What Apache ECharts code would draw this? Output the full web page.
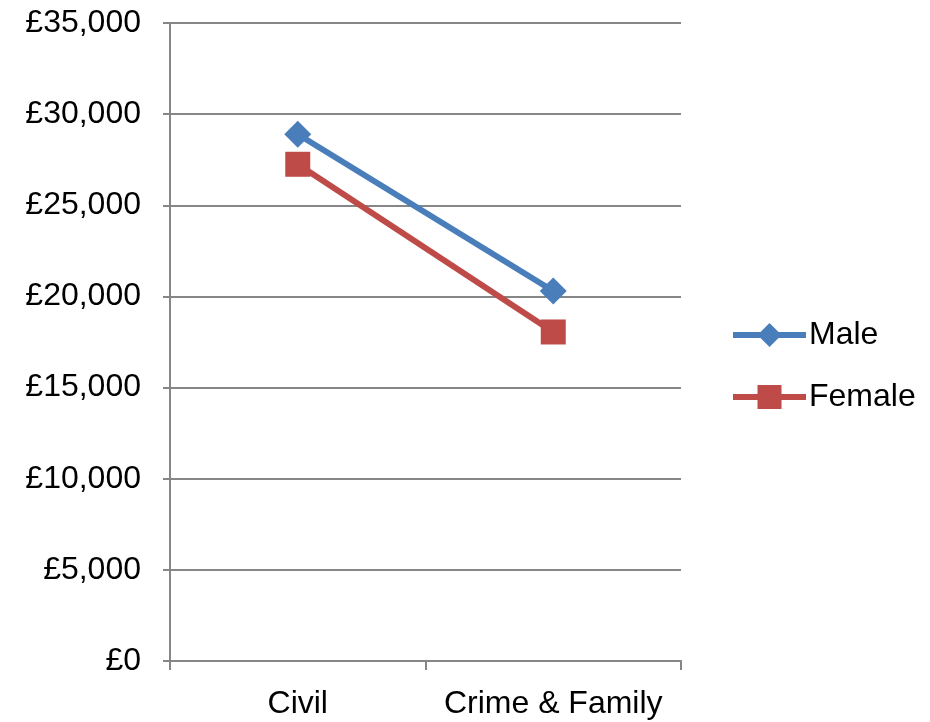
<!DOCTYPE html>
<html>
<head>
<meta charset="utf-8">
<script src="https://cdn.jsdelivr.net/npm/echarts@6/dist/echarts.min.js"></script>
<style>
html,body{margin:0;padding:0;background:#fff;}
#chart{width:930px;height:722px;}
</style>
</head>
<body>
<div id="chart"></div>
<script>
var categories = ['Civil', 'Crime & Family'];
var maleValues = [28900, 20300];
var femaleValues = [27250, 18050];
var seriesNames = ['Male', 'Female'];
var yTicks = [0, 5000, 10000, 15000, 20000, 25000, 30000, 35000];

var maleIcon = 'path://M0 9 L73 9 L73 15 L0 15 Z M36.5 0 L48.5 12 L36.5 24 L24.5 12 Z';
var femaleIcon = 'path://M0 9 L73 9 L73 15 L0 15 Z M24.5 0 L48.5 0 L48.5 24 L24.5 24 Z';

var chart = echarts.init(document.getElementById('chart'));
var font = 'Liberation Sans, Arial, sans-serif';
chart.setOption({
  animation: false,
  backgroundColor: '#ffffff',
  grid: {left: 170, right: 249, top: 23, bottom: 61, containLabel: false},
  legend: {
    orient: 'vertical',
    left: 728,
    top: 314,
    itemWidth: 73,
    itemHeight: 24,
    itemGap: 30,
    data: [
      {name: seriesNames[0], icon: maleIcon, itemStyle: {color: '#4a7ebb'}},
      {name: seriesNames[1], icon: femaleIcon, itemStyle: {color: '#be4b48'}}
    ],
    textStyle: {fontFamily: font, fontSize: 32, color: '#000', padding: [0,0,0,-2]}
  },
  xAxis: {
    type: 'category',
    data: categories,
    boundaryGap: true,
    axisLine: {lineStyle: {color: '#868686', width: 2}},
    axisTick: {show: true, interval: 0, length: 9, lineStyle: {color: '#868686', width: 2}},
    axisLabel: {interval: 0, hideOverlap: false, fontFamily: font, fontSize: 32, color: '#000', margin: 27}
  },
  yAxis: {
    type: 'value',
    min: yTicks[0],
    max: yTicks[yTicks.length - 1],
    interval: 5000,
    axisLine: {show: true, lineStyle: {color: '#868686', width: 2}},
    axisTick: {show: true, length: 7, lineStyle: {color: '#868686', width: 2}},
    splitLine: {lineStyle: {color: '#868686', width: 2}},
    axisLabel: {
      fontFamily: font, fontSize: 32, color: '#000', margin: 29,
      formatter: function (v) { return '£' + v.toLocaleString('en-GB'); }
    }
  },
  series: [
    {
      name: seriesNames[0], type: 'line', data: maleValues,
      symbol: 'diamond', symbolSize: 27,
      lineStyle: {color: '#4a7ebb', width: 6},
      itemStyle: {color: '#4a7ebb'},
      z: 3
    },
    {
      name: seriesNames[1], type: 'line', data: femaleValues,
      symbol: 'rect', symbolSize: 25,
      lineStyle: {color: '#be4b48', width: 6},
      itemStyle: {color: '#be4b48'},
      z: 2
    }
  ]
});
</script>
</body>
</html>
